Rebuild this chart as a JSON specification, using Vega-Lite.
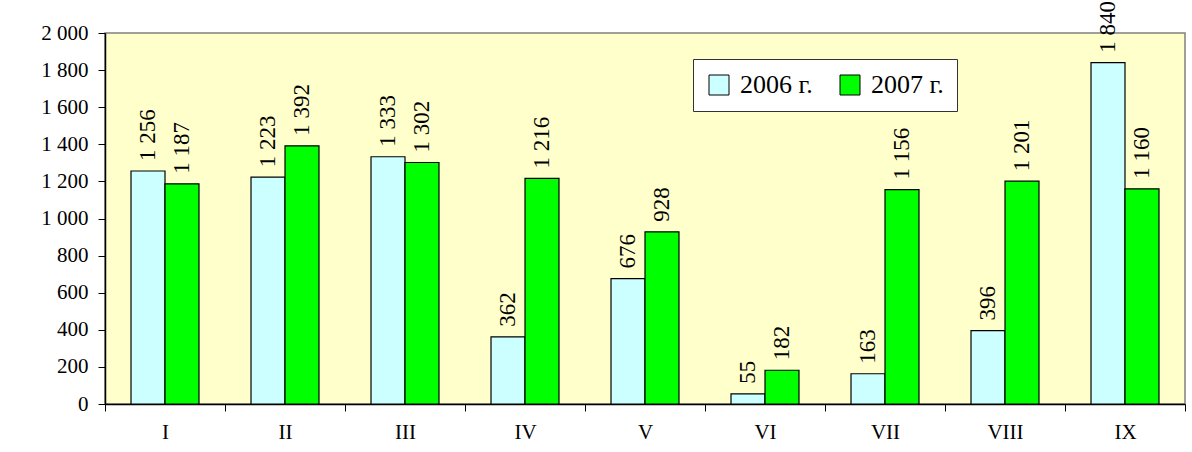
{
  "$schema": "https://vega.github.io/schema/vega-lite/v6.json",
  "autosize": {"type": "none"},
  "padding": {"left": 105, "top": 33, "right": 7, "bottom": 48},
  "width": 1080,
  "height": 371,
  "background": "white",
  "config": {
    "view": {"fill": "#FFFFCC", "stroke": "#808080", "strokeWidth": 1.5},
    "font": "Liberation Serif",
    "locale": {
      "number": {"decimal": ",", "thousands": " ", "grouping": [3], "currency": ["", ""]}
    }
  },
  "data": {
    "values": [
      {"month": "I", "year": "2006 г.", "value": 1256},
      {"month": "I", "year": "2007 г.", "value": 1187},
      {"month": "II", "year": "2006 г.", "value": 1223},
      {"month": "II", "year": "2007 г.", "value": 1392},
      {"month": "III", "year": "2006 г.", "value": 1333},
      {"month": "III", "year": "2007 г.", "value": 1302},
      {"month": "IV", "year": "2006 г.", "value": 362},
      {"month": "IV", "year": "2007 г.", "value": 1216},
      {"month": "V", "year": "2006 г.", "value": 676},
      {"month": "V", "year": "2007 г.", "value": 928},
      {"month": "VI", "year": "2006 г.", "value": 55},
      {"month": "VI", "year": "2007 г.", "value": 182},
      {"month": "VII", "year": "2006 г.", "value": 163},
      {"month": "VII", "year": "2007 г.", "value": 1156},
      {"month": "VIII", "year": "2006 г.", "value": 396},
      {"month": "VIII", "year": "2007 г.", "value": 1201},
      {"month": "IX", "year": "2006 г.", "value": 1840},
      {"month": "IX", "year": "2007 г.", "value": 1160}
    ]
  },
  "encoding": {
    "x": {
      "field": "month",
      "type": "nominal",
      "sort": null,
      "scale": {"paddingInner": 0, "paddingOuter": 0},
      "axis": {
        "title": null,
        "labelAngle": 0,
        "labelFont": "Liberation Serif",
        "labelFontSize": 21,
        "labelColor": "black",
        "labelPadding": 10,
        "tickBand": "extent",
        "tickSize": 7,
        "tickColor": "black",
        "domainColor": "black",
        "domainWidth": 1.5,
        "grid": false
      }
    },
    "xOffset": {
      "field": "year",
      "type": "nominal",
      "scale": {"paddingInner": 0, "paddingOuter": 0.765}
    },
    "y": {
      "field": "value",
      "type": "quantitative",
      "scale": {"domain": [0, 2000], "nice": false},
      "axis": {
        "title": null,
        "values": [0, 200, 400, 600, 800, 1000, 1200, 1400, 1600, 1800, 2000],
        "format": ",d",
        "labelFont": "Liberation Serif",
        "labelFontSize": 21,
        "labelColor": "black",
        "labelPadding": 10,
        "tickSize": 7,
        "tickColor": "black",
        "domainColor": "black",
        "domainWidth": 1.5,
        "grid": false
      }
    }
  },
  "layer": [
    {
      "mark": {"type": "bar", "stroke": "black", "strokeWidth": 1.2},
      "encoding": {
        "color": {
          "field": "year",
          "type": "nominal",
          "scale": {"domain": ["2006 г.", "2007 г."], "range": ["#CCFFFF", "#00FF00"]},
          "legend": {
            "title": null,
            "orient": "none",
            "direction": "horizontal",
            "legendX": 588,
            "legendY": 26,
            "padding": 13,
            "fillColor": "white",
            "strokeColor": "#333333",
            "symbolType": "square",
            "symbolSize": 400,
            "symbolStrokeColor": "black",
            "symbolStrokeWidth": 1,
            "labelFont": "Liberation Serif",
            "labelFontSize": 26,
            "labelColor": "black",
            "labelOffset": 8,
            "columnPadding": 24,
            "labelLimit": 300
          }
        }
      }
    },
    {
      "mark": {
        "type": "text",
        "angle": 270,
        "align": "left",
        "baseline": "middle",
        "dx": 10,
        "font": "Liberation Serif",
        "fontSize": 23,
        "color": "black"
      },
      "encoding": {
        "text": {"field": "value", "type": "quantitative", "format": ",d"},
        "detail": {"field": "year"}
      }
    }
  ]
}
